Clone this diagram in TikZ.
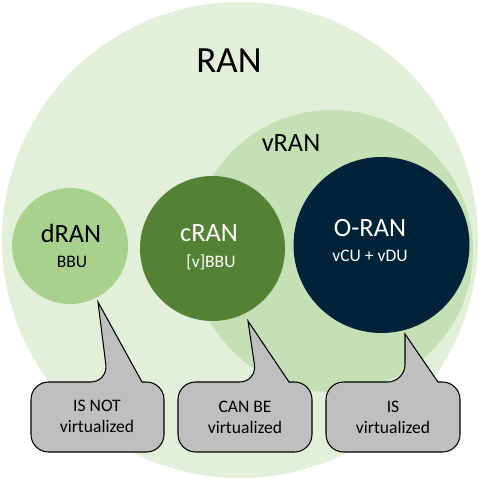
\documentclass[tikz,border=0pt]{standalone}
\usepackage{fontspec}
\setmainfont{Carlito}
\definecolor{ranfill}{HTML}{E2F0D9}
\definecolor{vranfill}{HTML}{C5E0B4}
\definecolor{dranfill}{HTML}{A9D18E}
\definecolor{cranfill}{HTML}{548235}
\definecolor{oranfill}{HTML}{00233A}
\definecolor{calloutgray}{HTML}{BFBFBF}
\begin{document}
\begin{tikzpicture}[x=0.02cm,y=-0.02cm,
  bigname/.style={font=\fontsize{15}{18}\selectfont},
  subname/.style={font=\fontsize{10}{12}\selectfont},
  calltext/.style={align=center,font=\fontsize{10}{12}\selectfont},
  callbox/.style={fill=calloutgray,draw=black,line width=0.6pt,rounded corners=10}]
  \useasboundingbox (0,0) rectangle (478,479);
  \def\boxT{382}
  \def\boxB{452}
  % nested circles
  \fill[ranfill] (240,240) circle (238);
  \fill[vranfill] (332,251) circle (141);
  \fill[dranfill] (70,246) circle (58);
  \fill[cranfill] (212.5,248.5) circle (72.5);
  \fill[oranfill] (381.5,245) circle (88);

  \node (ran) at (229,61) {\fontsize{21}{25}\selectfont RAN};
  \node[bigname] (vran) at (291,143) {vRAN};
  \node[bigname] (dran) at (71,233) {dRAN};
  \node[subname] (dranbbu) at (72,262) {BBU};
  \node[bigname,text=white] (cran) at (209,233) {cRAN};
  \node[subname,text=white] (cranbbu) at (211,262) {[v]BBU};
  \node[bigname,text=white] (oran) at (370,228) {O-RAN};
  \node[subname,text=white] (oranvcu) at (370,256) {vCU + vDU};

  % callouts
  \draw[callbox] (31,417) -- (31,\boxT) -- (108,\boxT) [sharp corners] -- (98,302) -- (142,\boxT) [rounded corners=10] -- (164,\boxT) -- (164,\boxB) -- (31,\boxB) -- cycle;
  \draw[callbox] (178,417) -- (178,\boxT) -- (257,\boxT) [sharp corners] -- (248,321) -- (289,\boxT) [rounded corners=10] -- (312,\boxT) -- (312,\boxB) -- (178,\boxB) -- cycle;
  \draw[callbox] (326,417) -- (326,\boxT) -- (405,\boxT) [sharp corners] -- (405,334) -- (438,\boxT) [rounded corners=10] -- (460,\boxT) -- (460,\boxB) -- (326,\boxB) -- cycle;

  \node[calltext] (isnot) at (97,416) {IS NOT\\virtualized};
  \node[calltext] (canbe) at (245,417) {CAN BE\\virtualized};
  \node[calltext] (is) at (393,417) {IS\\virtualized};
\end{tikzpicture}
\end{document}
